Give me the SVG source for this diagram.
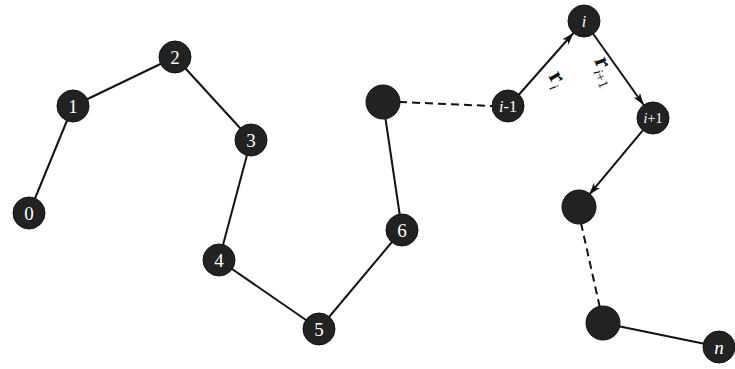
<svg xmlns="http://www.w3.org/2000/svg" width="735" height="369" viewBox="0 0 735 369">
<style>
.n{fill:#222;stroke:#111;stroke-width:1}
.t{fill:#fff;font-family:"Liberation Serif","Times New Roman",serif;font-size:19px;text-anchor:middle;dominant-baseline:central}
.it{font-style:italic}
.e{stroke:#111;stroke-width:2;fill:none}
.d{stroke-dasharray:8 5}
.lab{font-family:"Liberation Serif","Times New Roman",serif;fill:#111}
</style>
<defs>
<marker id="ah" viewBox="0 0 12 8" refX="12" refY="4" markerWidth="12" markerHeight="8" markerUnits="userSpaceOnUse" orient="auto">
<path d="M0,0 L12,4 L0,8 L3,4 z" fill="#111"/>
</marker>
</defs>
<rect width="735" height="369" fill="#fff"/>
<g id="connectors">
<line class="e" x1="29" y1="213" x2="73" y2="106"/>
<line class="e" x1="73" y1="106" x2="175" y2="57"/>
<line class="e" x1="175" y1="57" x2="251" y2="140"/>
<line class="e" x1="251" y1="140" x2="219" y2="260"/>
<line class="e" x1="219" y1="260" x2="319" y2="329"/>
<line class="e" x1="319" y1="329" x2="402" y2="230"/>
<line class="e" x1="402" y1="230" x2="383" y2="102"/>
<line class="e d" x1="399" y1="102" x2="492" y2="106"/>
<line class="e" x1="518.6" y1="95" x2="573.4" y2="33" marker-end="url(#ah)"/>
<line class="e" x1="593.3" y1="34" x2="643.7" y2="105" marker-end="url(#ah)"/>
<line class="e" x1="642.8" y1="130.3" x2="589.2" y2="194.7" marker-end="url(#ah)"/>
<line class="e d" x1="581" y1="223" x2="600" y2="308"/>
<line class="e" x1="603" y1="323" x2="720" y2="347"/>
</g>
<g id="n0"><circle class="n" cx="29" cy="213" r="16"/><text class="t" x="29" y="213">0</text></g>
<g id="n1"><circle class="n" cx="73" cy="106" r="16"/><text class="t" x="73" y="106">1</text></g>
<g id="n2"><circle class="n" cx="175" cy="57" r="16"/><text class="t" x="175" y="57">2</text></g>
<g id="n3"><circle class="n" cx="251" cy="140" r="16"/><text class="t" x="251" y="140">3</text></g>
<g id="n4"><circle class="n" cx="219" cy="260" r="16"/><text class="t" x="219" y="260">4</text></g>
<g id="n5"><circle class="n" cx="319" cy="329" r="16"/><text class="t" x="319" y="329">5</text></g>
<g id="n6"><circle class="n" cx="402" cy="230" r="16"/><text class="t" x="402" y="230">6</text></g>
<g id="nA"><circle class="n" cx="383" cy="102" r="17"/></g>
<g id="nim1"><circle class="n" cx="508" cy="106" r="16"/><text class="t" x="508" y="106" style="font-size:16px"><tspan class="it">i</tspan>-1</text></g>
<g id="ni"><circle class="n" cx="584" cy="21" r="16"/><text class="t it" x="584" y="21" style="font-size:16px">i</text></g>
<g id="nip1"><circle class="n" cx="653" cy="118" r="16"/><text class="t" x="653" y="118" style="font-size:14px"><tspan class="it">i</tspan>+1</text></g>
<g id="nB"><circle class="n" cx="579" cy="207" r="17"/></g>
<g id="nC"><circle class="n" cx="603" cy="323" r="17"/></g>
<g id="nn"><circle class="n" cx="719" cy="347" r="16"/><text class="t it" x="719" y="347">n</text></g>
<g id="labels">
<text class="lab" transform="translate(548,76) rotate(60)" font-size="24"><tspan font-weight="bold">r</tspan><tspan font-style="italic" font-size="14" dy="5">i</tspan></text>
<text class="lab" transform="translate(594,60) rotate(68)" font-size="24"><tspan font-weight="bold">r</tspan><tspan font-style="italic" font-size="14" dy="5">i</tspan><tspan font-size="14">+1</tspan></text>
</g>
</svg>
